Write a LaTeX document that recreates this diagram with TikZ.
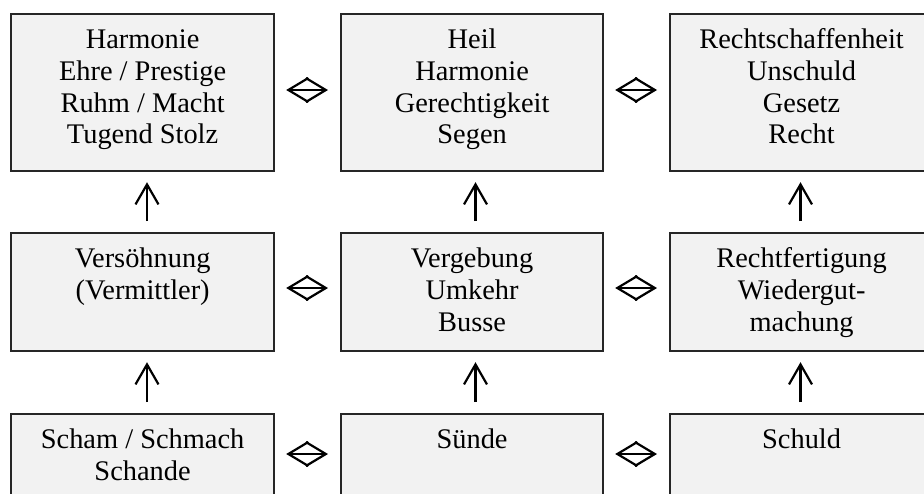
\documentclass[tikz,border=0pt]{standalone}
\usepackage{fontspec}
\setmainfont{Liberation Serif}
\usetikzlibrary{arrows.meta}
\definecolor{boxfill}{HTML}{F2F2F2}
\definecolor{boxline}{HTML}{262626}
\begin{document}
\begin{tikzpicture}[x=1pt,y=-1pt,
  box/.style={draw=boxline,line width=2.2pt,fill=boxfill,inner sep=0pt,anchor=north west,minimum width=263pt},
  lbl/.style={anchor=north,inner sep=0pt,align=center,text=black,font=\fontsize{28.4}{31.7}\selectfont,yshift=-13.3pt},
  harr/.style={line width=2.2pt,{Straight Barb[length=20pt,width=24pt]}-{Straight Barb[length=20pt,width=24pt]},shorten <=11pt,shorten >=12pt},
  varr/.style={line width=2.2pt,-{Straight Barb[length=20pt,width=23pt]},shorten <=11pt,shorten >=10pt}]
\useasboundingbox (0,0) rectangle (924,493);
\clip (0,0) rectangle (924,493);
% row 1
\node[box,minimum height=157pt] (r1c1) at (10,13) {};
\node[box,minimum height=157pt,minimum width=262pt] (r1c2) at (340,13) {};
\node[box,minimum height=157pt] (r1c3) at (669,13) {};
% row 2
\node[box,minimum height=118pt] (r2c1) at (10,232) {};
\node[box,minimum height=118pt,minimum width=262pt] (r2c2) at (340,232) {};
\node[box,minimum height=118pt] (r2c3) at (669,232) {};
% row 3
\node[box,minimum height=118pt] (r3c1) at (10,413) {};
\node[box,minimum height=118pt,minimum width=262pt] (r3c2) at (340,413) {};
\node[box,minimum height=118pt] (r3c3) at (669,413) {};
% labels
\node[lbl] (t11) at (r1c1.north) {\strut Harmonie\\Ehre / Prestige\\Ruhm / Macht\\Tugend Stolz};
\node[lbl] (t12) at (r1c2.north) {\strut Heil\\Harmonie\\Gerechtigkeit\\Segen};
\node[lbl] (t13) at (r1c3.north) {\strut Rechtschaffenheit\\Unschuld\\Gesetz\\Recht};
\node[lbl] (t21) at (r2c1.north) {\strut Versöhnung\\(Vermittler)};
\node[lbl] (t22) at (r2c2.north) {\strut Vergebung\\Umkehr\\Busse};
\node[lbl] (t23) at (r2c3.north) {\strut Rechtfertigung\\Wiedergut-\\machung};
\node[lbl] (t31) at (r3c1.north) {\strut Scham / Schmach\\Schande};
\node[lbl] (t32) at (r3c2.north) {\strut Sünde};
\node[lbl] (t33) at (r3c3.north) {\strut Schuld};
% horizontal double arrows
\draw[harr] (r1c1.east |- 0,90) -- (r1c2.west |- 0,90);
\draw[harr] (r1c2.east |- 0,90) -- (r1c3.west |- 0,90);
\draw[harr] (r2c1.east |- 0,288) -- (r2c2.west |- 0,288);
\draw[harr] (r2c2.east |- 0,288) -- (r2c3.west |- 0,288);
\draw[harr] (r3c1.east |- 0,454) -- (r3c2.west |- 0,454);
\draw[harr] (r3c2.east |- 0,454) -- (r3c3.west |- 0,454);
% vertical arrows
\draw[varr] (r2c1.north -| 147,0) -- (r1c1.south -| 147,0);
\draw[varr] (r2c2.north -| 475.5,0) -- (r1c2.south -| 475.5,0);
\draw[varr] (r2c3.north -| 800.5,0) -- (r1c3.south -| 800.5,0);
\draw[varr] (r3c1.north -| 147,0) -- (r2c1.south -| 147,0);
\draw[varr] (r3c2.north -| 475.5,0) -- (r2c2.south -| 475.5,0);
\draw[varr] (r3c3.north -| 800.5,0) -- (r2c3.south -| 800.5,0);
\end{tikzpicture}
\end{document}
